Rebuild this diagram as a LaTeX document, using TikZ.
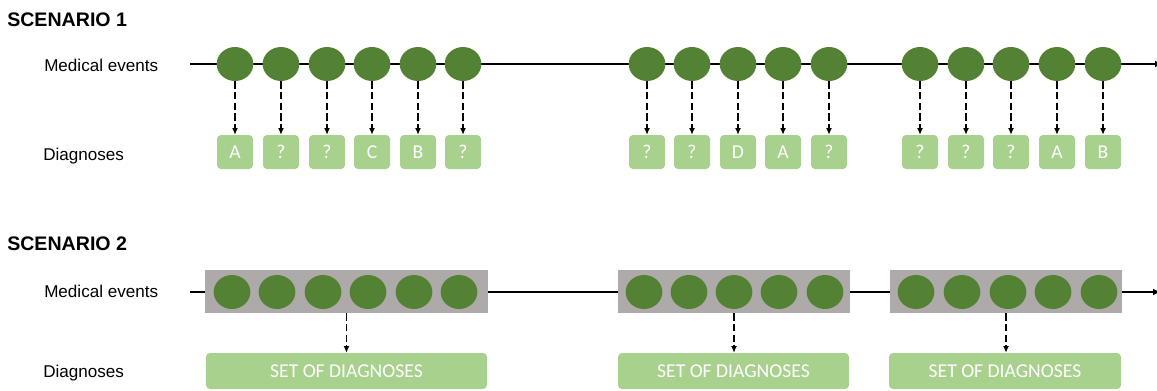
\documentclass[tikz,border=0pt]{standalone}
\usepackage{fontspec}
\setmainfont{Liberation Sans}
\newfontfamily\carlito{Carlito}
\usetikzlibrary{shapes.geometric,arrows.meta}
\definecolor{evgreen}{HTML}{548235}
\definecolor{dxgreen}{HTML}{A9D18E}
\definecolor{bandgray}{HTML}{AEAAAA}
\begin{document}
\begin{tikzpicture}[x=0.75pt,y=-0.75pt,
    event/.style={ellipse,fill=evgreen,inner sep=0pt,minimum width=27.5pt,minimum height=25.5pt},
    diag/.style={rectangle,rounded corners=3pt,fill=dxgreen,text=white,inner sep=0pt,
      minimum width=27pt,minimum height=25.5pt,font=\carlito\fontsize{14.7}{16}\selectfont},
    band/.style={rectangle,fill=bandgray,inner sep=0pt,minimum height=32.3pt},
    diagset/.style={diag,minimum height=27pt},
    rowname/.style={anchor=base west,inner sep=0pt,font=\fontsize{12.8}{15}\selectfont},
    heading/.style={anchor=base west,inner sep=0pt,font=\bfseries\fontsize{14.7}{17}\selectfont},
    timeline/.style={line width=2pt,-{Latex[length=6pt,width=5pt]}},
    link/.style={line width=0.9pt,dash pattern=on 5.5pt off 2.5pt,-{Latex[length=5pt,width=4.5pt]}}]
  \useasboundingbox (0,0) rectangle (1157,390);

  \draw
    (7,26) node[heading] (sc1){SCENARIO 1}
    (44,71.5) node[rowname] (ev1){Medical events}
    (43,160) node[rowname] (dg1){Diagnoses}
    (7,250) node[heading] (sc2){SCENARIO 2}
    (44,297) node[rowname] (ev2){Medical events}
    (43,377) node[rowname] (dg2){Diagnoses};

  \coordinate (ts1) at (190,64);
  \coordinate (te1) at (1163,64);
  \draw[timeline] (ts1) -- (te1);
  \draw
    (235,64) node[event] (m1){}
    (281,64) node[event] (m2){}
    (327,64) node[event] (m3){}
    (372,64) node[event] (m4){}
    (418,64) node[event] (m5){}
    (463,64) node[event] (m6){}
    (647,64) node[event] (m7){}
    (692,64) node[event] (m8){}
    (738,64) node[event] (m9){}
    (783,64) node[event] (m10){}
    (829,64) node[event] (m11){}
    (920,64) node[event] (m12){}
    (966,64) node[event] (m13){}
    (1011,64) node[event] (m14){}
    (1057,64) node[event] (m15){}
    (1103,64) node[event] (m16){};
  \draw
    (235,152) node[diag] (d1){A}
    (281,152) node[diag] (d2){?}
    (327,152) node[diag] (d3){?}
    (372,152) node[diag] (d4){C}
    (418,152) node[diag] (d5){B}
    (463,152) node[diag] (d6){?}
    (647,152) node[diag] (d7){?}
    (692,152) node[diag] (d8){?}
    (738,152) node[diag] (d9){D}
    (783,152) node[diag] (d10){A}
    (829,152) node[diag] (d11){?}
    (920,152) node[diag] (d12){?}
    (966,152) node[diag] (d13){?}
    (1011,152) node[diag] (d14){?}
    (1057,152) node[diag] (d15){A}
    (1103,152) node[diag] (d16){B};
  \begin{scope}[link]
    \draw (m1.south) to (d1.north);
    \draw (m2.south) to (d2.north);
    \draw (m3.south) to (d3.north);
    \draw (m4.south) to (d4.north);
    \draw (m5.south) to (d5.north);
    \draw (m6.south) to (d6.north);
    \draw (m7.south) to (d7.north);
    \draw (m8.south) to (d8.north);
    \draw (m9.south) to (d9.north);
    \draw (m10.south) to (d10.north);
    \draw (m11.south) to (d11.north);
    \draw (m12.south) to (d12.north);
    \draw (m13.south) to (d13.north);
    \draw (m14.south) to (d14.north);
    \draw (m15.south) to (d15.north);
    \draw (m16.south) to (d16.north);
  \end{scope}

  \coordinate (ts2) at (190,292);
  \coordinate (te2) at (1161,292);
  \draw[timeline] (ts2) -- (te2);
  \draw
    (346.5,291.5) node[band,minimum width=212.25pt] (g1){}
    (734,291.5) node[band,minimum width=174pt] (g2){}
    (1006,291.5) node[band,minimum width=174pt] (g3){};
  \draw
    (232,292) node[event] (n1){}
    (277,292) node[event] (n2){}
    (323,292) node[event] (n3){}
    (368,292) node[event] (n4){}
    (414,292) node[event] (n5){}
    (459,292) node[event] (n6){}
    (644,292) node[event] (n7){}
    (689,292) node[event] (n8){}
    (734,292) node[event] (n9){}
    (779,292) node[event] (n10){}
    (825,292) node[event] (n11){}
    (916,292) node[event] (n12){}
    (962,292) node[event] (n13){}
    (1008,292) node[event] (n14){}
    (1053,292) node[event] (n15){}
    (1099,292) node[event] (n16){};
  \draw
    (346.5,371) node[diagset,minimum width=210.75pt] (s1){SET OF DIAGNOSES}
    (733.5,371) node[diagset,minimum width=173.25pt] (s2){SET OF DIAGNOSES}
    (1005,371) node[diagset,minimum width=174pt] (s3){SET OF DIAGNOSES};
  \begin{scope}[link]
    \draw (g1.south) to (g1.south |- s1.north);
    \draw (g2.south) to (g2.south |- s2.north);
    \draw (g3.south) to (g3.south |- s3.north);
  \end{scope}
\end{tikzpicture}
\end{document}
